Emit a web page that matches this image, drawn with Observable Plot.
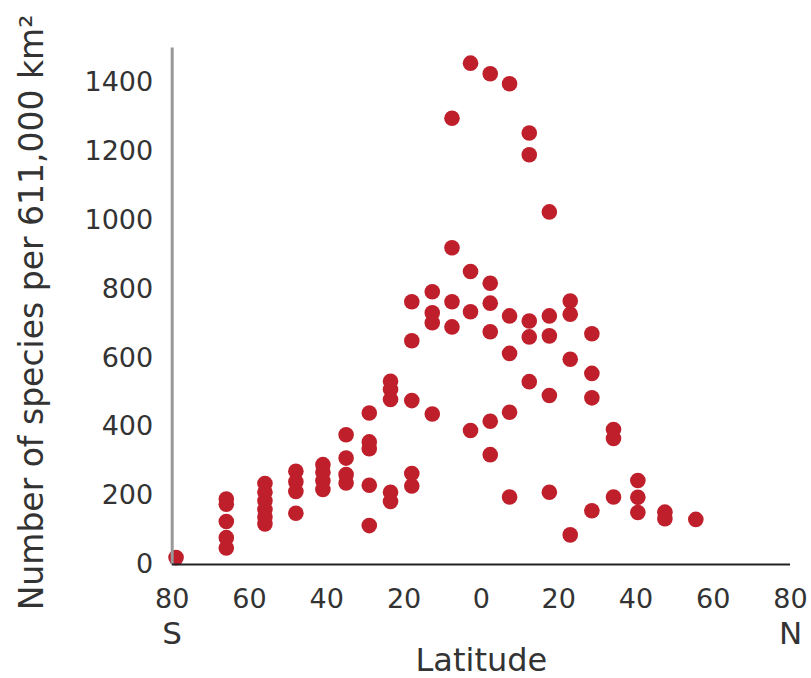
<!DOCTYPE html>
<html>
<head>
<meta charset="utf-8">
<script src="https://cdn.jsdelivr.net/npm/d3@7"></script>
<script src="https://cdn.jsdelivr.net/npm/@observablehq/plot@0.6"></script>
<style>
  body { margin: 0; background: #fff; }
  svg { font-family: "DejaVu Sans", Verdana, sans-serif; }
</style>
</head>
<body>
<div id="chart"></div>
<script>
// Latitude bands (negative = south) and species counts observed at each
const latitudes = [-79, -66, -56, -48, -41, -35, -29, -23.5, -18, -12.7, -7.6, -2.8, 2.3, 7.3, 12.4, 17.6, 23, 28.6, 34.2, 40.5, 47.5, 55.5];
const speciesCounts = [
  [20],
  [190, 175, 125, 78, 48],
  [235, 210, 185, 160, 138, 118],
  [271, 240, 212, 149],
  [290, 268, 243, 218],
  [377, 309, 261, 237],
  [440, 356, 336, 230, 113],
  [532, 508, 479, 210, 183],
  [763, 650, 476, 264, 228],
  [792, 731, 702, 437],
  [1296, 920, 763, 690],
  [1456, 851, 734, 389],
  [1425, 817, 759, 676, 416, 319],
  [1396, 722, 613, 442, 196],
  [1253, 1190, 707, 661, 531],
  [1024, 722, 664, 491, 210],
  [765, 727, 596, 86],
  [670, 555, 484, 156],
  [392, 366, 196],
  [244, 195, 151],
  [152, 133],
  [131]
];
const xTicks = [-80, -60, -40, -20, 0, 20, 40, 60, 80];
const yTicks = [0, 200, 400, 600, 800, 1000, 1200, 1400];
const xTitle = "Latitude";
const yTitle = "Number of species per 611,000 km\u00B2";
const hemispheres = [{lat: -80, label: "S"}, {lat: 80, label: "N"}];

const points = latitudes.flatMap((lat, i) => speciesCounts[i].map(v => ({lat, v})));

const textColor = "#333";
const chart = Plot.plot({
  width: 811,
  height: 678,
  marginLeft: 171.7,
  marginRight: 21,
  marginTop: 47.5,
  marginBottom: 114,
  x: {domain: [-80, 80], axis: null},
  y: {domain: [0, 1500], axis: null},
  marks: [
    Plot.dot(points, {x: "lat", y: "v", r: 7.8, fill: "#bf1f2b", stroke: "none"}),
    Plot.ruleX([-80], {stroke: "#999", strokeWidth: 3, y1: 0, y2: 1500}),
    Plot.ruleY([0], {stroke: "#222", strokeWidth: 2, x1: -80, x2: 80}),
    Plot.text(yTicks, {x: -80, y: d => d, text: d => String(d), dx: -19, textAnchor: "end", lineAnchor: "middle", fontSize: 27, fill: textColor}),
    Plot.text(xTicks, {x: d => d, y: 0, text: d => String(Math.abs(d)), dy: 35, textAnchor: "middle", lineAnchor: "middle", fontSize: 27, fill: textColor}),
    Plot.text(hemispheres, {x: "lat", y: 0, text: "label", dy: 70, textAnchor: "middle", lineAnchor: "middle", fontSize: 31, fill: textColor}),
    Plot.text([xTitle], {x: 0, y: 0, text: d => d, dy: 96, textAnchor: "middle", lineAnchor: "middle", fontSize: 32, fill: textColor}),
    Plot.text([yTitle], {x: -80, y: 732, text: d => d, dx: -140, rotate: -90, textAnchor: "middle", lineAnchor: "middle", fontSize: 33, fill: textColor})
  ]
});
document.getElementById("chart").appendChild(chart);
</script>
</body>
</html>
